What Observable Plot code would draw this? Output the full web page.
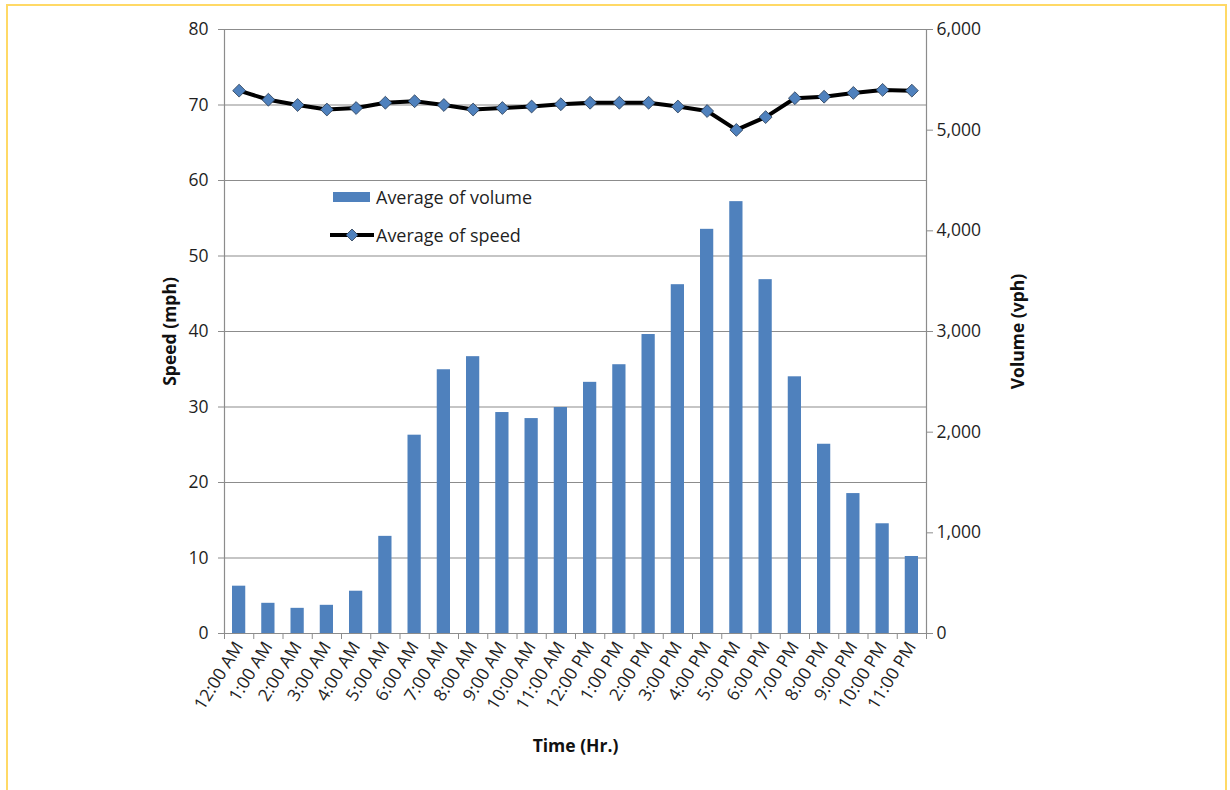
<!DOCTYPE html>
<html>
<head>
<meta charset="utf-8">
<script src="https://cdn.jsdelivr.net/npm/d3@7"></script>
<script src="https://cdn.jsdelivr.net/npm/@observablehq/plot@0.6"></script>
<style>
  html, body { margin: 0; padding: 0; background: #fff; }
  #wrap { position: relative; width: 1230px; height: 790px; overflow: hidden; }
  #border { position: absolute; left: 6px; top: 4px; width: 1221px; height: 820px; border: 2px solid #ffd966; box-sizing: border-box; pointer-events: none; }
  #legend { position: absolute; left: 329px; top: 178px; font-family: "Open Sans", Lato, sans-serif; font-size: 18px; color: #1f1f1f; }
  #legend .row { display: flex; align-items: center; height: 38px; }
  #legend svg { margin-right: 1px; }
</style>
</head>
<body>
<div id="wrap">
  <div id="chart"></div>
  <div id="legend"></div>
  <div id="border"></div>
</div>
<script>
// ---- data ----
const hours = ["12:00 AM","1:00 AM","2:00 AM","3:00 AM","4:00 AM","5:00 AM","6:00 AM","7:00 AM","8:00 AM","9:00 AM","10:00 AM","11:00 AM",
               "12:00 PM","1:00 PM","2:00 PM","3:00 PM","4:00 PM","5:00 PM","6:00 PM","7:00 PM","8:00 PM","9:00 PM","10:00 PM","11:00 PM"];
const volume = [470, 300, 250, 280, 420, 965, 1970, 2620, 2750, 2195, 2135, 2245,
                2495, 2670, 2970, 3465, 4015, 4290, 3515, 2550, 1880, 1390, 1090, 765];
const speed = [71.9, 70.7, 70.0, 69.4, 69.6, 70.3, 70.5, 70.0, 69.4, 69.6, 69.8, 70.1,
               70.3, 70.3, 70.3, 69.8, 69.2, 66.7, 68.4, 70.9, 71.1, 71.6, 72.0, 71.9];
const speedTicks = [0, 10, 20, 30, 40, 50, 60, 70, 80];
const volumeTicks = [0, 1000, 2000, 3000, 4000, 5000, 6000];
const speedMax = 80, volumeMax = 6000;
const seriesNames = ["Average of volume", "Average of speed"];
const axisTitles = {left: "Speed (mph)", right: "Volume (vph)", bottom: "Time (Hr.)"};

// ---- build table ----
const rows = hours.map((h, i) => ({i, hour: h, volume: volume[i], speed: speed[i]}));
const toSpeed = v => v * speedMax / volumeMax;
const barColor = "#4f81bd";
const gridColor = "#8c8c8c";
const font = "'Open Sans', Lato, sans-serif";
const fs = 17.5;

const chart = Plot.plot({
  width: 1230,
  height: 790,
  marginLeft: 224,
  marginRight: 304,
  marginTop: 29,
  marginBottom: 157,
  style: {fontFamily: font, fontSize: fs + "px", color: "#1f1f1f", background: "transparent"},
  x: {type: "linear", domain: [0, hours.length], axis: null},
  y: {domain: [0, speedMax], axis: null},
  marks: [
    Plot.gridY(speedTicks, {stroke: gridColor, strokeOpacity: 1, strokeWidth: 1.2}),
    Plot.rectY(rows, {x: "i", interval: 1, y: d => toSpeed(d.volume), fill: barColor, insetLeft: 8, insetRight: 8}),
    Plot.ruleX([0, hours.length], {stroke: gridColor, strokeWidth: 1.2}),
    Plot.ruleY([0], {stroke: gridColor, strokeWidth: 1.2}),
    // left axis
    Plot.axisY(speedTicks, {anchor: "left", tickSize: 6, tickPadding: 10, stroke: gridColor, fill: "#1f1f1f", label: null, fontSize: fs}),
    // right axis (volume)
    Plot.axisY(volumeTicks.map(toSpeed), {anchor: "right", tickSize: 6, tickPadding: 4, stroke: gridColor, fill: "#1f1f1f", label: null, fontSize: fs,
      tickFormat: v => d3.format(",")(Math.round(v * volumeMax / speedMax))}),
    // x boundary ticks
    Plot.axisX(d3.range(hours.length + 1), {anchor: "bottom", tickSize: 6, stroke: gridColor, tickFormat: () => "", label: null}),
    // x labels
    Plot.axisX(rows.map(d => d.i + 0.5), {anchor: "bottom", tickSize: 0, tickPadding: 10, tickRotate: -58, fill: "#1f1f1f", fontSize: fs,
      tickFormat: v => hours[Math.floor(v)], label: null}),
    // speed line
    Plot.line(rows, {x: d => d.i + 0.5, y: "speed", stroke: "#000", strokeWidth: 4, strokeLinejoin: "round"}),
    Plot.dot(rows, {x: d => d.i + 0.5, y: "speed", symbol: "diamond2", r: 5.8, fill: barColor, stroke: "#2a3b52", strokeWidth: 0.8}),
    // axis titles
    Plot.text([axisTitles.left], {frameAnchor: "left", textAnchor: "middle", dx: -54, rotate: -90, fontWeight: "bold", fontSize: fs, fill: "#111"}),
    Plot.text([axisTitles.right], {frameAnchor: "right", textAnchor: "middle", dx: 92, rotate: -90, fontWeight: "bold", fontSize: fs, fill: "#111"}),
    Plot.text([axisTitles.bottom], {frameAnchor: "bottom", textAnchor: "middle", dy: 118, fontWeight: "bold", fontSize: fs, fill: "#111"})
  ]
});
document.getElementById("chart").appendChild(chart);

// ---- legend ----
const legend = d3.select("#legend");
const r1 = legend.append("div").attr("class", "row");
const s1 = r1.append("svg").attr("width", 46).attr("height", 14);
s1.append("rect").attr("x", 4).attr("y", 2).attr("width", 37).attr("height", 10).attr("fill", barColor);
r1.append("span").text(seriesNames[0]);
const r2 = legend.append("div").attr("class", "row");
const s2 = r2.append("svg").attr("width", 46).attr("height", 14);
s2.append("line").attr("x1", 1).attr("x2", 45).attr("y1", 7).attr("y2", 7).attr("stroke", "#000").attr("stroke-width", 4);
s2.append("path").attr("d", "M23,1 L29,7 L23,13 L17,7 Z").attr("fill", barColor).attr("stroke", "#2a3b52").attr("stroke-width", 0.8);
r2.append("span").text(seriesNames[1]);
</script>
</body>
</html>
